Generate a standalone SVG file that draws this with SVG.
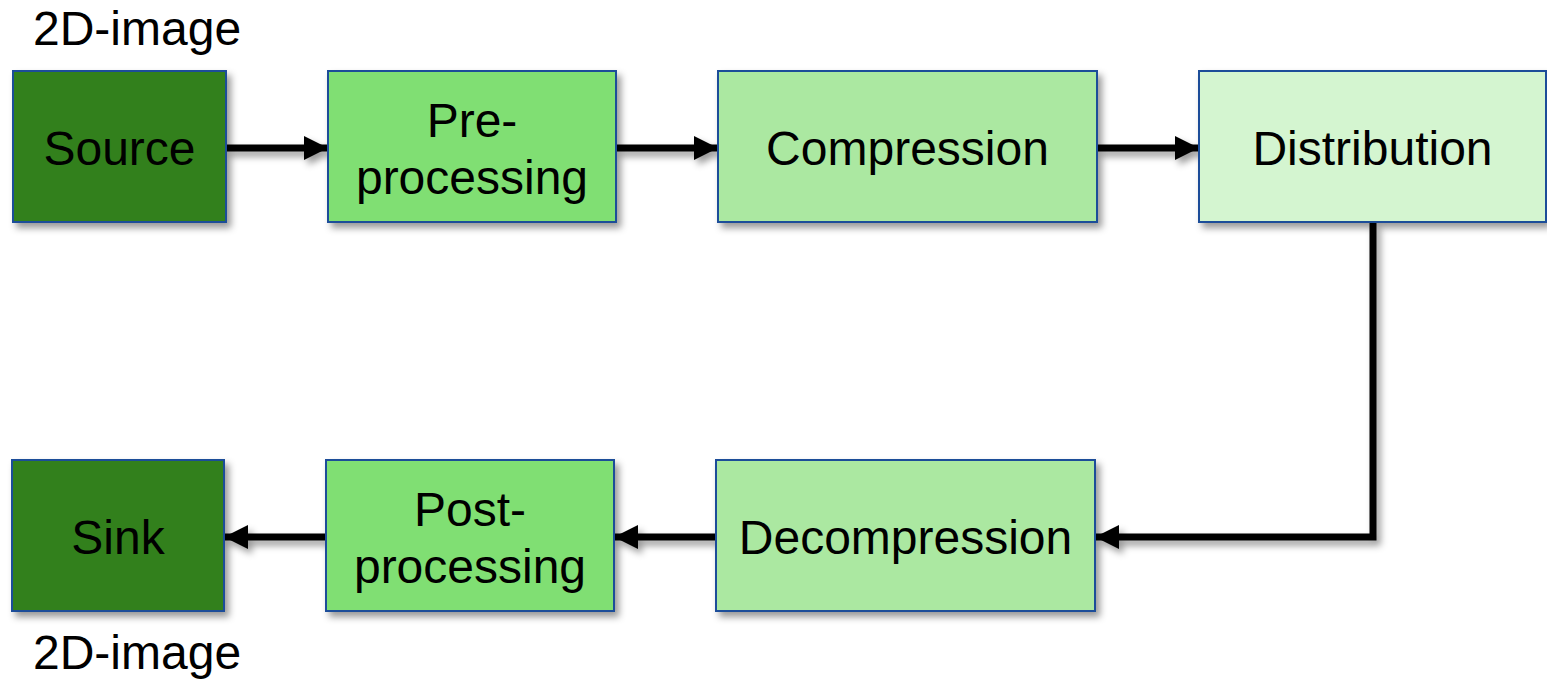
<svg xmlns="http://www.w3.org/2000/svg" width="1547" height="681" viewBox="0 0 1547 681">
<style>
.box{stroke:#1f4e99;stroke-width:2;filter:url(#sh)}
.t{font-family:"Liberation Sans",Arial,sans-serif;font-size:48px;fill:#000;text-anchor:middle}
.lab{font-family:"Liberation Sans",Arial,sans-serif;font-size:48px;fill:#000}
.c{fill:none;stroke:#000;stroke-width:7;marker-end:url(#ah)}
</style>
<defs>
<filter id="sh" filterUnits="userSpaceOnUse" x="0" y="0" width="1547" height="681">
<feDropShadow dx="4" dy="5" stdDeviation="3.5" flood-color="#000" flood-opacity="0.4"/>
</filter>
<marker id="ah" markerUnits="userSpaceOnUse" markerWidth="26" markerHeight="24" refX="24" refY="12" orient="auto">
<path d="M0,0 L24,12 L0,24 Z" fill="#000"/>
</marker>
</defs>
<text class="lab" x="33" y="45">2D-image</text>
<text class="lab" x="33" y="669">2D-image</text>
<g id="connectors" filter="url(#sh)">
<path class="c" d="M226,148 L328,148"/>
<path class="c" d="M616,148 L718,148"/>
<path class="c" d="M1097,148 L1199,148"/>
<path class="c" d="M1373,223 L1373,537 L1095,537"/>
<path class="c" d="M716,537 L614,537"/>
<path class="c" d="M326,537 L224,537"/>
</g>
<g id="source"><rect class="box" x="13" y="71" width="213" height="151" fill="#31801f"/><text class="t" x="119.5" y="165">Source</text></g>
<g id="preprocessing"><rect class="box" x="328" y="71" width="288" height="151" fill="#80df73"/><text class="t" x="472" y="137">Pre-</text><text class="t" x="472" y="194">processing</text></g>
<g id="compression"><rect class="box" x="718" y="71" width="379" height="151" fill="#abe8a1"/><text class="t" x="907.5" y="165">Compression</text></g>
<g id="distribution"><rect class="box" x="1199" y="71" width="347" height="151" fill="#d4f5d0"/><text class="t" x="1372.5" y="165">Distribution</text></g>
<g id="decompression"><rect class="box" x="716" y="460" width="379" height="151" fill="#abe8a1"/><text class="t" x="905.5" y="554">Decompression</text></g>
<g id="postprocessing"><rect class="box" x="326" y="460" width="288" height="151" fill="#80df73"/><text class="t" x="470" y="526">Post-</text><text class="t" x="470" y="583">processing</text></g>
<g id="sink"><rect class="box" x="12" y="460" width="212" height="151" fill="#31801f"/><text class="t" x="118" y="554">Sink</text></g>
</svg>
